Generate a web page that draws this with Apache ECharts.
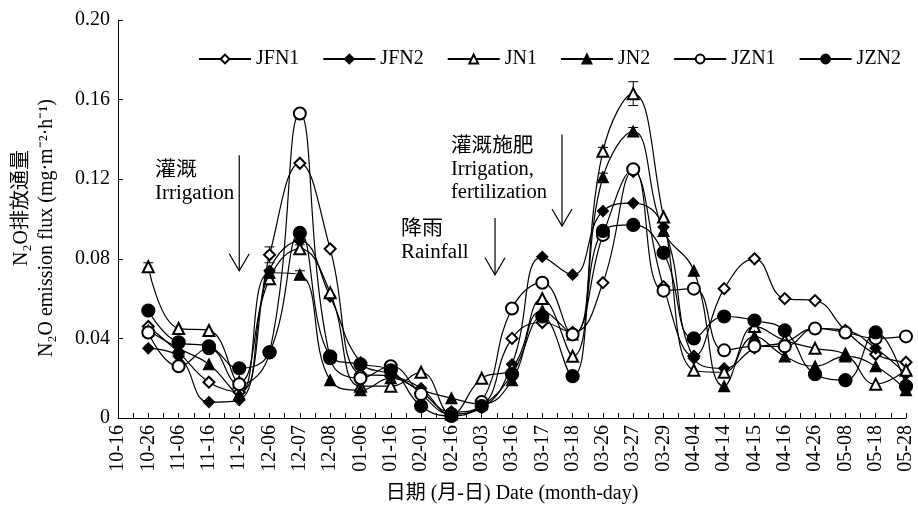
<!DOCTYPE html>
<html><head><meta charset="utf-8">
<script src="https://cdn.jsdelivr.net/npm/echarts@6/dist/echarts.min.js"></script>
<style>html,body{margin:0;padding:0;background:#fff}#c{width:918px;height:507px}</style>
</head><body><div id="c"></div><script>
const categories = ['10-16','10-26','11-06','11-16','11-26','12-06','12-07','12-08','01-06','01-16','02-01','02-16','03-03','03-16','03-17','03-18','03-26','03-27','03-29','04-04','04-14','04-15','04-16','04-26','05-08','05-18','05-28'];
const JFN1 = [null,0.046,0.033,0.018,0.013,0.082,0.128,0.085,0.022,0.021,0.013,0.003,0.006,0.040,0.048,0.043,0.068,0.124,0.066,0.031,0.065,0.080,0.060,0.059,0.044,0.032,0.028];
const JFN2 = [null,0.035,0.031,0.008,0.009,0.074,0.089,0.061,0.028,0.022,0.015,0.002,0.005,0.027,0.081,0.072,0.104,0.108,0.096,0.030,0.025,0.035,0.038,0.045,0.044,0.035,0.022];
const JN1  = [null,0.076,0.045,0.044,0.018,0.070,0.085,0.063,0.016,0.016,0.023,0.002,0.020,0.025,0.060,0.031,0.134,0.163,0.101,0.024,0.023,0.046,0.039,0.035,0.032,0.017,0.024];
const JN2  = [null,0.044,0.035,0.027,0.012,0.073,0.072,0.019,0.014,0.020,0.014,0.010,0.007,0.019,0.054,0.042,0.121,0.144,0.094,0.074,0.016,0.041,0.031,0.026,0.031,0.026,0.014];
const JZN1 = [null,0.043,0.026,0.035,0.017,0.033,0.153,0.030,0.020,0.026,0.012,0.002,0.008,0.055,0.068,0.042,0.092,0.125,0.064,0.065,0.034,0.036,0.036,0.045,0.043,0.040,0.041];
const JZN2 = [null,0.054,0.038,0.036,0.025,0.033,0.093,0.031,0.027,0.024,0.006,0.001,0.006,0.022,0.051,0.021,0.094,0.097,0.083,0.040,0.051,0.049,0.044,0.022,0.019,0.043,0.016];
// error bars: [series values, category index, half-range]
const errorBars = [[JN1,17,0.006],[JFN1,5,0.004],[JN1,1,0.002],[JN1,5,0.003],[JN1,16,0.002],[JN2,17,0.002],[JN2,6,0.002],[JN1,6,0.002],[JN2,16,0.002]];

const FONT = "'Liberation Serif','Noto Sans CJK SC',serif";
const seriesDefs = [
  ['JFN1', JFN1, 'emptyDiamond', 11],
  ['JFN2', JFN2, 'diamond', 11],
  ['JN1', JN1, 'emptyTriangle', 11],
  ['JN2', JN2, 'triangle', 11],
  ['JZN1', JZN1, 'emptyCircle', 12],
  ['JZN2', JZN2, 'circle', 13]
];
const chart = echarts.init(document.getElementById('c'), null, {renderer:'canvas'});
const series = seriesDefs.map(([name, data, sym, size]) => ({
  name, type:'line', data, smooth:0.45, symbol:sym, symbolSize:size,
  xAxisIndex:0, yAxisIndex:0,
  lineStyle:{color:'#000', width:1.2},
  itemStyle:{color:'#000', borderColor:'#000', borderWidth:1.2},
  emphasis:{disabled:true}
}));
series.push({
  type:'custom', xAxisIndex:0, yAxisIndex:0, silent:true,
  data: errorBars.map(([arr, i, e]) => [i, arr[i] - e, arr[i] + e]),
  renderItem: (params, api) => {
    const lo = api.coord([api.value(0), api.value(1)]);
    const hi = api.coord([api.value(0), api.value(2)]);
    const w = 5;
    return {type:'group', children:[
      {type:'line', shape:{x1:lo[0],y1:lo[1],x2:hi[0],y2:hi[1]}, style:{stroke:'#000',lineWidth:1}},
      {type:'line', shape:{x1:hi[0]-w,y1:hi[1],x2:hi[0]+w,y2:hi[1]}, style:{stroke:'#000',lineWidth:1}},
      {type:'line', shape:{x1:lo[0]-w,y1:lo[1],x2:lo[0]+w,y2:lo[1]}, style:{stroke:'#000',lineWidth:1}}
    ]};
  },
  z:1
});

chart.setOption({
  animation:false,
  backgroundColor:'#fff',
  textStyle:{fontFamily:FONT},
  grid:{left:118, right:12, top:20, bottom:89, containLabel:false},
  legend:{
    data: seriesDefs.map(d=>d[0]),
    left:193, top:44, itemWidth:52, itemHeight:11, itemGap:23,
    textStyle:{fontFamily:FONT, fontSize:20, color:'#000'},
    selectedMode:false
  },
  xAxis:[
    {type:'category', data:categories, boundaryGap:false,
     axisLine:{lineStyle:{color:'#000', width:1}},
     axisTick:{show:false},
     axisLabel:{rotate:90, interval:0, fontSize:20, color:'#000', margin:7, fontFamily:FONT},
     splitLine:{show:false}},
    {type:'value', min:0, max:categories.length-1, interval:0.5, position:'bottom',
     axisLine:{show:false}, axisLabel:{show:false}, splitLine:{show:false},
     axisTick:{show:true, inside:true, length:5, lineStyle:{color:'#000', width:1}}}
  ],
  yAxis:{type:'value', min:0, max:0.2, interval:0.04,
    axisLine:{show:true, lineStyle:{color:'#000', width:1}},
    axisTick:{show:true, inside:true, length:5, lineStyle:{color:'#000'}},
    axisLabel:{fontSize:20, color:'#000', margin:8, fontFamily:FONT,
      formatter:v => v===0 ? '0' : v.toFixed(2)},
    splitLine:{show:false}},
  series
});

// annotations (arrows in data coordinates of the value x-axis)
const arrows = [
  {x:4.0, y0:0.132, y1:0.074},
  {x:12.44, y0:0.1005, y1:0.072},
  {x:14.65, y0:0.1425, y1:0.0965}
];
const g = [];
arrows.forEach(a => {
  const p0 = chart.convertToPixel({xAxisIndex:1, yAxisIndex:0}, [a.x, a.y0]);
  const p1 = chart.convertToPixel({xAxisIndex:1, yAxisIndex:0}, [a.x, a.y1]);
  g.push({type:'line', shape:{x1:p0[0],y1:p0[1],x2:p1[0],y2:p1[1]}, style:{stroke:'#000', lineWidth:1.2}});
  g.push({type:'polyline', shape:{points:[[p1[0]-10,p1[1]-17],[p1[0],p1[1]],[p1[0]+10,p1[1]-17]]}, style:{stroke:'#000', lineWidth:1.2, fill:null}});
});
const txt = (x, y, text, extra) => Object.assign({type:'text', x, y, style:Object.assign({text, fill:'#000', font:"20px " + FONT, lineHeight:23}, extra||{})});
g.push(Object.assign(txt(155, 159, '灌溉\nIrrigation'), {scaleX:1.05}));
g.push(Object.assign(txt(401, 218, '降雨\nRainfall'), {scaleX:1.05}));
g.push(Object.assign(txt(451, 135, '灌溉施肥\nIrrigation,\nfertilization'), {scaleX:1.03}));
g.push(txt(512, 494, '日期 (月-日) Date (month-day)', {textAlign:'center', textVerticalAlign:'middle'}));
g.push(Object.assign(txt(22, 208, 'N₂O排放通量', {textAlign:'center', textVerticalAlign:'middle'}), {rotation:Math.PI/2}));
g.push(Object.assign(txt(47, 228, 'N₂O emission flux (mg·m⁻²·h⁻¹)', {textAlign:'center', textVerticalAlign:'middle'}), {rotation:Math.PI/2}));
chart.setOption({graphic:g});
</script></body></html>
